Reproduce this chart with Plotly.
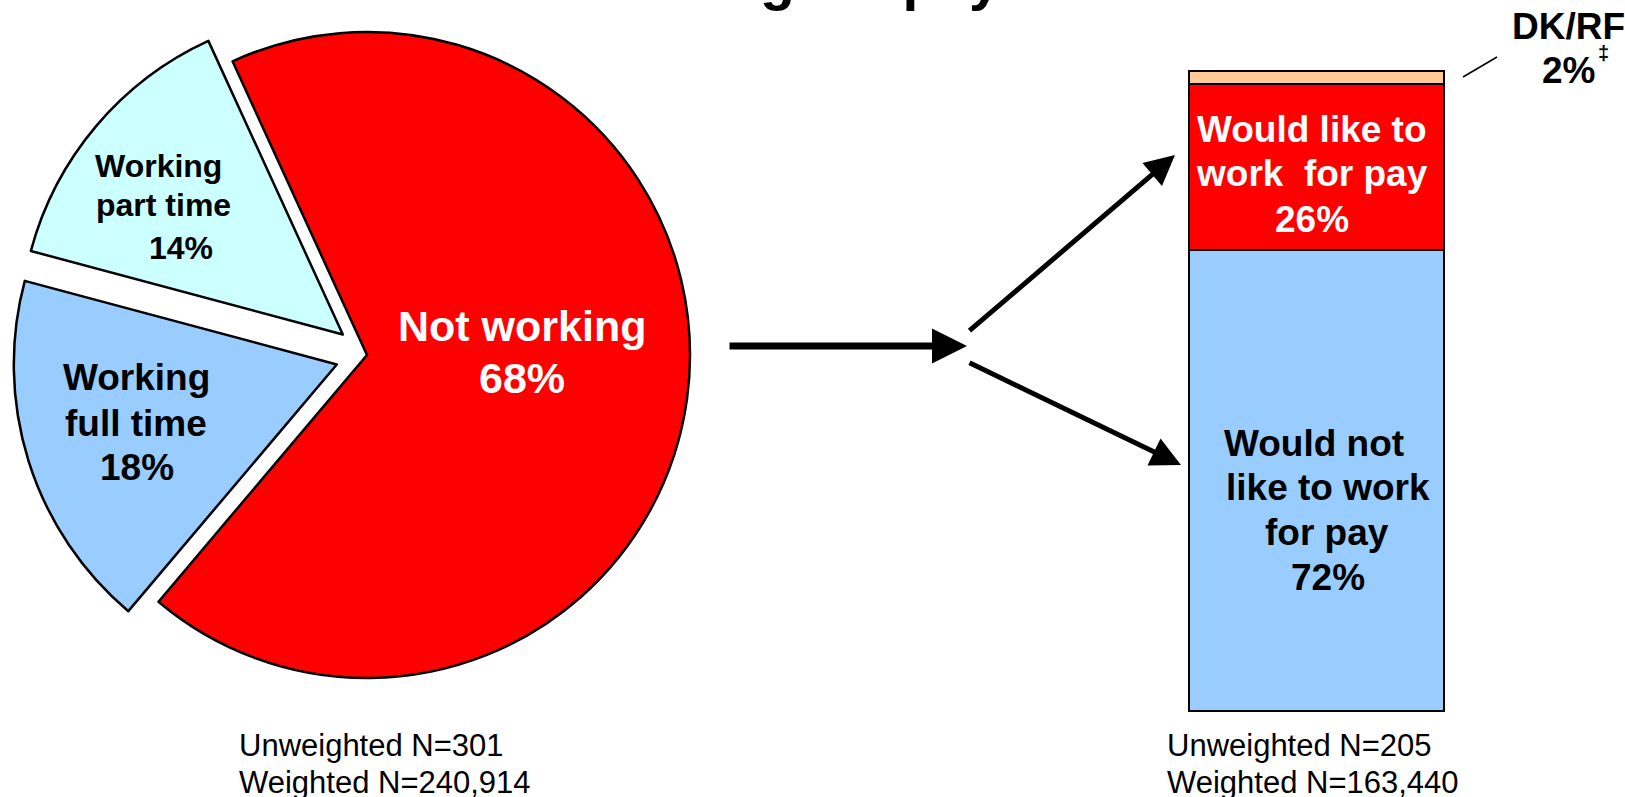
import plotly.graph_objects as go

W, H = 1625, 797

# ---------------- data ----------------
title_text = "Working for pay"

pie_labels = ["Not working", "Working full time", "Working part time"]
pie_values = [68, 18, 14]
pie_label_lines = [["Not working"], ["Working", "full time"], ["Working", "part time"]]

bar_labels = ["Would not like to work for pay", "Would like to work for pay", "DK/RF"]
bar_values = [72, 26, 2]
bar_label_lines = [["Would not", "like to work", "for pay"], ["Would like to", "work\u00a0 for pay"], ["DK/RF"]]
dk_mark = "\u2021"

pie_n = ["Unweighted N=301", "Weighted N=240,914"]
bar_n = ["Unweighted N=205", "Weighted N=163,440"]

# ---------------- styles / positions ----------------
FONT = "Liberation Sans, Arial, sans-serif"
pie_colors = ["#FF0000", "#99CCFF", "#CCFFFF"]
pie_pull = [0, 0.098, 0.098]
bar_colors = ["#99CCFF", "#FF0000", "#FFCC99"]


def px(x):
    return x / W


def py(y):
    return 1 - y / H


fig = go.Figure()

# pie: centre (367,355), radius 323 px
r = 323
cx, cy = 367, 355
half = r * (1 + max(pie_pull))
fig.add_trace(go.Pie(
    labels=pie_labels, values=pie_values, sort=False, direction="clockwise",
    rotation=-24.6, pull=pie_pull,
    marker=dict(colors=pie_colors, line=dict(color="black", width=2.5)),
    textinfo="none", hoverinfo="label+percent", showlegend=False,
    domain=dict(x=[px(cx - half), px(cx + half)], y=[py(cy + half), py(cy - half)]),
))

# stacked bar
for lab, val, col in zip(bar_labels, bar_values, bar_colors):
    fig.add_trace(go.Bar(
        x=[""], y=[val], name=lab, width=1, cliponaxis=False,
        marker=dict(color=col, line=dict(color="black", width=2)),
        showlegend=False, hoverinfo="name+y",
    ))

annotations = []


def add_text(text, x, y, size, color="black", bold=True, xanchor="center"):
    annotations.append(dict(
        text=text, x=px(x), y=py(y), xref="paper", yref="paper",
        xanchor=xanchor, yanchor="middle", showarrow=False,
        font=dict(family=FONT, size=size, color=color, weight="bold" if bold else "normal"),
    ))


# title (cut off at top of the page)
annotations.append(dict(
    text=title_text, x=px(1003), y=1 + 20.8 / H, xref="paper", yref="paper",
    xanchor="right", yanchor="middle", showarrow=False,
    font=dict(family=FONT, size=57, color="black", weight="bold"),
))

# pie labels
pie_pos = [
    [(522, 326), (522, 378)],
    [(136, 378), (136, 423), (137, 468)],
    [(158, 166), (163, 205), (181, 248)],
]
pie_font = [43, 37, 32]
pie_tcol = ["white", "black", "black"]
for lines, val, pos, fs, col in zip(pie_label_lines, pie_values, pie_pos, pie_font, pie_tcol):
    for t, (x, y) in zip(lines + [f"{val}%"], pos):
        add_text(t, x, y, fs, col)

# bar labels
bar_pos = [
    [(1314, 443.5), (1328, 487), (1327, 532.6), (1328, 577)],
    [(1312, 129.5), (1312, 174), (1312, 219.7)],
    [(1568, 26.5), (1568, 70)],
]
bar_tcol = ["black", "white", "black"]
for lines, val, pos, col in zip(bar_label_lines, bar_values, bar_pos, bar_tcol):
    for t, (x, y) in zip(lines + [f"{val}%"], pos):
        add_text(t, x, y, 37, col)
add_text(dk_mark, 1603, 53, 20, "black")

# footers
for t, y in zip(pie_n, [745, 782]):
    add_text(t, 237, y, 31, bold=False, xanchor="left")
for t, y in zip(bar_n, [745, 782]):
    add_text(t, 1165, y, 31, bold=False, xanchor="left")

# arrows
arrows = [
    ((728, 346), (967, 346), 7, 1.0),
    ((968, 332), (1175, 155), 5, 1.2),
    ((968, 362), (1181, 465), 5, 1.2),
]
for (tx, ty), (hx, hy), w, s in arrows:
    annotations.append(dict(
        text="", x=px(hx), y=py(hy), xref="paper", yref="paper",
        ax=tx - hx, ay=ty - hy, axref="pixel", ayref="pixel",
        showarrow=True, arrowhead=2, arrowwidth=w, arrowsize=s, arrowcolor="black",
        standoff=0,
    ))

shapes = [dict(type="line", xref="paper", yref="paper",
               x0=px(1463), y0=py(77), x1=px(1497), y1=py(57),
               line=dict(color="black", width=1.5))]

# bar geometry: bar spans x 1189..1444 px, y 710 (0%) .. 70.5 (100%) px; pad axes by 4 px
bx0, bx1, by0, by1, pad = 1189, 1444, 710, 70.5, 4
xpad = pad / (bx1 - bx0)
ypad = pad / (by0 - by1) * 100

fig.update_layout(
    width=W, height=H, margin=dict(l=0, r=0, t=0, b=0),
    paper_bgcolor="white", plot_bgcolor="rgba(0,0,0,0)",
    barmode="stack", bargap=0,
    xaxis=dict(domain=[px(bx0 - pad), px(bx1 + pad)], range=[-0.5 - xpad, 0.5 + xpad],
               visible=False, fixedrange=True),
    yaxis=dict(domain=[py(by0 + pad), py(by1 - pad)], range=[-ypad, 100 + ypad],
               visible=False, fixedrange=True),
    annotations=annotations, shapes=shapes,
    font=dict(family=FONT),
)

fig.write_html(
    "out.html",
    config={"displayModeBar": False},
    post_script="document.body.style.margin='0';document.body.style.overflow='hidden';",
)
